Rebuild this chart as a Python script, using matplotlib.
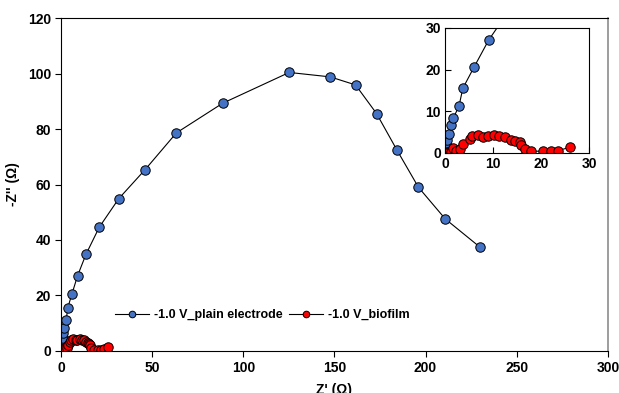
import matplotlib
matplotlib.use("Agg")
import matplotlib.pyplot as plt

plt.rcParams['font.family'] = ['Liberation Sans', 'DejaVu Sans']
plt.rcParams['font.weight'] = 'bold'
plt.rcParams['font.size'] = 10

# -1.0 V, plain electrode (Nyquist)
plain_x = [0.05, 0.1, 0.2, 0.3, 0.5, 0.9, 1.25, 1.73, 2.9, 3.7, 6.0, 9.1, 13.7, 21.0,
           31.7, 46.2, 63.3, 88.7, 125.2, 147.7, 161.6, 173.1, 184.4, 196.1, 210.8, 229.7]
plain_y = [0.1, 0.4, 0.9, 1.6, 3.0, 4.6, 6.6, 8.4, 11.2, 15.5, 20.5, 27.1, 34.8, 44.6,
           54.9, 65.4, 78.6, 89.3, 100.4, 98.8, 95.9, 85.6, 72.3, 59.0, 47.6, 37.5]

# -1.0 V, biofilm
bio_x = [0.2, 0.5, 0.9, 1.3, 1.73, 2.3, 3.1, 3.7, 5.1, 5.7, 6.8, 8.0, 9.0, 10.2,
         11.3, 12.5, 13.75, 14.6, 15.6, 15.8, 16.7, 17.85, 20.35, 22.1, 23.6, 26.0]
bio_y = [0.05, 0.1, 0.2, 0.3, 1.2, 0.55, 1.0, 2.2, 3.4, 4.1, 4.2, 3.9, 4.1, 4.2,
         4.0, 3.8, 3.2, 2.8, 2.5, 2.0, 1.0, 0.4, 0.4, 0.4, 0.55, 1.35]

blue = '#4472C4'
red = '#FF0000'


def draw(ax, ms):
    ax.plot(plain_x, plain_y, '-', color='black', lw=0.8, marker='o', ms=ms,
            mfc=blue, mec='black', mew=0.7, label='-1.0 V_plain electrode')
    ax.plot(bio_x, bio_y, '-', color='black', lw=0.8, marker='o', ms=ms,
            mfc=red, mec='black', mew=0.7, label='-1.0 V_biofilm')


def bold_ticks(ax):
    for lab in ax.get_xticklabels() + ax.get_yticklabels():
        lab.set_fontweight('bold')
        lab.set_fontsize(10)


fig = plt.figure(figsize=(6.19, 3.93), dpi=100)
ax = fig.add_axes([0.0985, 0.107, 0.8835, 0.847])
draw(ax, 6.8)
ax.set_xlim(0, 300)
ax.set_ylim(0, 120)
ax.set_xticks([0, 50, 100, 150, 200, 250, 300])
ax.set_yticks([0, 20, 40, 60, 80, 100, 120])
ax.tick_params(direction='out', length=4, width=0.8, pad=3)
bold_ticks(ax)
ax.spines['right'].set_color('#8c8c8c')
ax.spines['right'].set_linewidth(1.2)
ax.set_xlabel("Z' (Ω)", fontweight='bold', fontsize=10, labelpad=6)
ax.set_ylabel("-Z'' (Ω)", fontweight='bold', fontsize=10)
ax.yaxis.set_label_coords(-0.075, 0.5)

ax.legend(loc='center', bbox_to_anchor=(0.368, 0.108), ncol=2, frameon=False,
          handlelength=2.7, handletextpad=0.4, columnspacing=0.5,
          markerscale=0.7, prop={'weight': 'bold', 'size': 9})

# inset: zoom near origin
ins = fig.add_axes([0.719, 0.611, 0.2326, 0.318])
draw(ins, 6.8)
ins.set_xlim(0, 30)
ins.set_ylim(0, 30)
ins.set_xticks([0, 10, 20, 30])
ins.set_yticks([0, 10, 20, 30])
ins.tick_params(direction='in', length=4, width=0.8, pad=3)
bold_ticks(ins)

fig.savefig('out.png', dpi=100)
